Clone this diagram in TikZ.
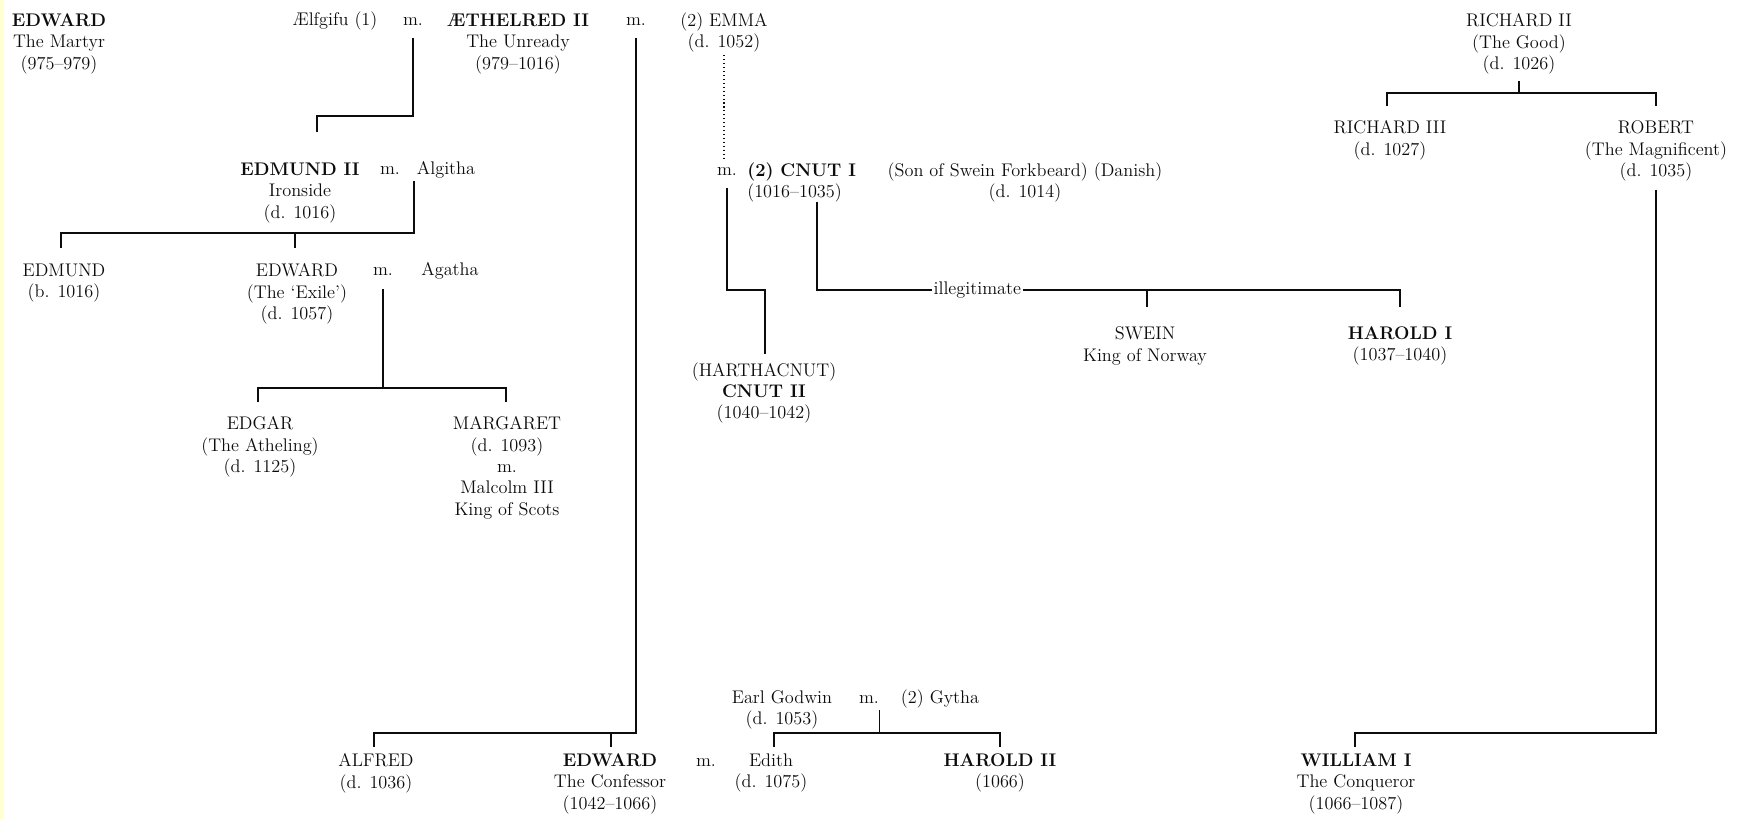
\documentclass[tikz,border=0pt]{standalone}
\usepackage{fontspec}
\usetikzlibrary{positioning, calc}
\definecolor{inkblack}{RGB}{12, 12, 12}
\definecolor{scanyellow}{RGB}{255, 255, 210}
\tikzset{
    person/.style={
        align=center,
        anchor=north,
        inner sep=0pt,
        text=inkblack,
        font=\fontsize{13}{15.2}\selectfont
    },
    % single line texts sit on their baseline
    marr/.style={
        person,
        anchor=base
    },
    famline/.style={
        draw=inkblack,
        line width=1pt
    },
    % line that only hints at a marriage
    hintline/.style={
        draw=inkblack,
        line width=0.8pt,
        dotted
    },
    tag/.style={
        fill=white,
        inner sep=1pt,
        text=inkblack,
        font=\fontsize{13}{15.2}\selectfont
    },
}

\begin{document}
\begin{tikzpicture}[x=0.025cm, y=-0.025cm]
    \useasboundingbox (0,0) rectangle (1742,819);
    \fill[white] (0,0) rectangle (1742,819);
    \fill[scanyellow] (0,0) rectangle (4,819);

    % Top row
    \node[person] (edwardM) at (59,13.5) {\textbf{EDWARD}\\The Martyr\\(975–979)};
    \node[marr] (aelfgifu) at (335,26) {Ælfgifu (1)};
    \node[marr] (mA) at (413,26) {m.};
    \node[person] (aethelred) at (518,13.5) {\textbf{ÆTHELRED II}\\The Unready\\(979–1016)};
    \node[marr] (mB) at (636,26) {m.};
    \node[person] (emma) at (724,12.2) {(2) EMMA\\(d. 1052)};
    \node[person] (richardII) at (1519,13.5) {RICHARD II\\(The Good)\\(d. 1026)};

    % Normandy
    \node[person] (richardIII) at (1390,120.5) {RICHARD III\\(d. 1027)};
    \node[person] (robert) at (1656,120.5) {ROBERT\\(The Magnificent)\\(d. 1035)};

    % Edmund Ironside and his line
    \node[person] (edmundII) at (300,162.5) {\textbf{EDMUND II}\\Ironside\\(d. 1016)};
    \node[marr] (mD) at (390,175) {m.};
    \node[marr] (algitha) at (446,175) {Algitha};
    \node[person] (edmund) at (64,263.5) {EDMUND\\(b. 1016)};
    \node[person] (edwardE) at (297,263.5) {EDWARD\\(The ‘Exile’)\\(d. 1057)};
    \node[marr] (mE) at (383,276) {m.};
    \node[marr] (agatha) at (450,276) {Agatha};
    \node[person] (edgar) at (260,416.5) {EDGAR\\(The Atheling)\\(d. 1125)};
    \node[person] (margaret) at (507,416.5) {MARGARET\\(d. 1093)\\m.\\Malcolm III\\King of Scots};

    % Cnut and the Danes
    \node[marr] (mC) at (727,176) {m.};
    \node[person, align=left, anchor=north west] (cnut) at (747,162.2) {\textbf{(2) CNUT I}\\(1016–1035)};
    \node[person] (forkbeard) at (1025,162.2) {\addfontfeature{LetterSpace=4, WordSpace=1.8}(Son of Swein Forkbeard) (Danish)\\(d. 1014)};
    \node[person] (harthacnut) at (764,362.2) {(HARTHACNUT)\\\textbf{CNUT II}\\(1040–1042)};
    \node[person] (swein) at (1145,326.5) {SWEIN\\King of Norway};
    \node[person] (haroldI) at (1400,326.5) {\textbf{HAROLD I}\\(1037–1040)};

    % Godwin
    \node[person] (godwin) at (782,690.3) {Earl Godwin\\(d. 1053)};
    \node[marr] (mG) at (869,703) {m.};
    \node[marr] (gytha) at (940,703) {(2) Gytha};

    % Bottom row
    \node[person] (alfred) at (376,753.5) {ALFRED\\(d. 1036)};
    \node[person] (edwardC) at (610,753.5) {\textbf{EDWARD}\\The Confessor\\(1042–1066)};
    \node[marr] (mF) at (706,766) {m.};
    \node[person] (edith) at (771,753.5) {Edith\\(d. 1075)};
    \node[person] (haroldII) at (1000,753.5) {\textbf{HAROLD II}\\(1066)};
    \node[person] (william) at (1356,753.5) {\textbf{WILLIAM I}\\The Conqueror\\(1066–1087)};

    % bar corners
    \coordinate (bA) at (317,116);
    \coordinate (bD1) at (61,233);
    \coordinate (bD2) at (295,233);
    \coordinate (bE1) at (258,388);
    \coordinate (bE2) at (506,388);
    \coordinate (bB1) at (374,733);
    \coordinate (bB2) at (611,733);
    \coordinate (bC) at (765,290);
    \coordinate (iA) at (817,290);
    \coordinate (iS) at (1147,290);
    \coordinate (iH) at (1400,290);
    \coordinate (rA) at (1387,93);
    \coordinate (rB) at (1656,93);
    \coordinate (wB) at (1355,733);
    \coordinate (gA) at (774,733);
    \coordinate (gB) at (1000,733);

    % Aelfgifu & Aethelred
    \draw[famline, shorten <=8pt, shorten >=22pt] (mA.south) |- (bA) -- (bA |- edmundII.north);
    % Edmund II & Algitha
    \draw[famline, shorten <=1.5pt, shorten >=11pt] ([xshift=-2pt]algitha.south west) |- (bD1) -- (bD1 |- edmund.north);
    \draw[famline, shorten >=11pt] (bD2) -- (bD2 |- edwardE.north);
    % Edward the Exile & Agatha
    \draw[famline, shorten <=9pt] (mE.south) -- (mE.south |- bE1);
    \draw[famline, shorten <=10pt, shorten >=10pt] (bE1 |- edgar.north) |- (bE2) -- (bE2 |- margaret.north);
    % Aethelred & Emma
    \draw[famline, shorten <=8pt, shorten >=4.6pt] (mB.south) |- (bB1) -- (bB1 |- alfred.north);
    \draw[famline, shorten >=4.6pt] (bB2) -- (bB2 |- edwardC.north);
    % Emma & Cnut
    \draw[hintline, shorten <=2pt, shorten >=5pt] (emma.south) -- (emma.south |- mC.north);
    \draw[famline, shorten <=8.5pt, shorten >=6pt] (mC.south) |- (bC) -- (bC |- harthacnut.north);
    \draw[famline, shorten >=14pt] (cnut.south -| iA) -- (iA) -- node[pos=0.275, tag]{illegitimate} (iH) -- (iH |- haroldI.north);
    \draw[famline, shorten >=14pt] (iS) -- (iS |- swein.north);
    % Richard II
    \draw[famline, shorten <=5pt] (richardII.south) -- (richardII.south |- rA);
    \draw[famline, shorten <=10pt, shorten >=10pt] (rA |- richardIII.north) |- (rB) -- (rB |- robert.north);
    % Robert
    \draw[famline, shorten <=6pt, shorten >=4.6pt] (robert.south) |- (wB) -- (wB |- william.north);
    % Godwin & Gytha
    \draw[famline, shorten <=5pt] (mG.south east) -- (mG.south east |- gA);
    \draw[famline, shorten <=4.6pt, shorten >=4.6pt] (gA |- edith.north) |- (gB) -- (gB |- haroldII.north);
\end{tikzpicture}
\end{document}
